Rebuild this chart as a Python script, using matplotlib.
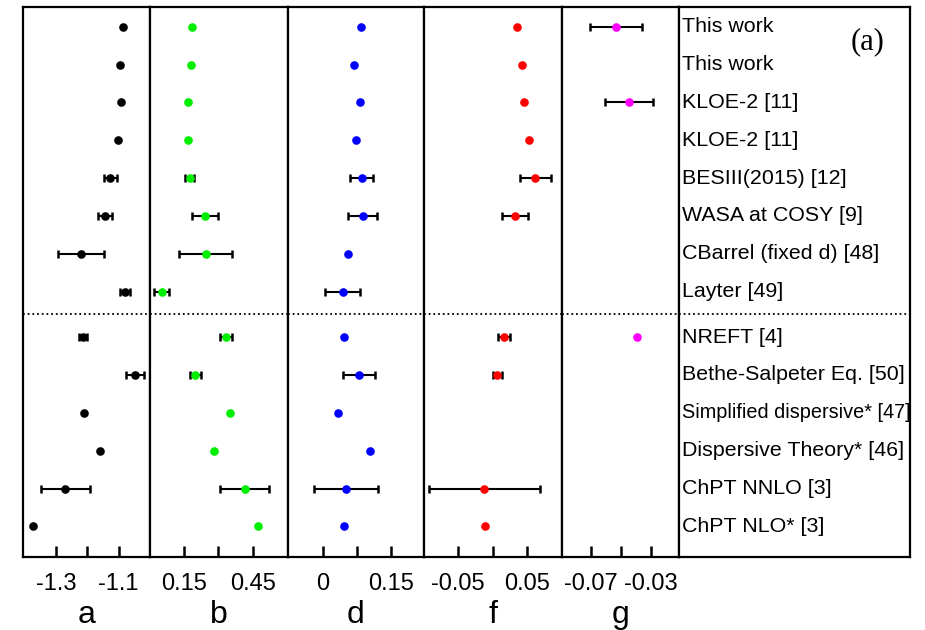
import numpy as np
import matplotlib

matplotlib.use("Agg")
import matplotlib.pyplot as plt  # noqa: E402

sources = [
    "This work", "This work", "KLOE-2 [11]", "KLOE-2 [11]",
    "BESIII(2015) [12]", "WASA at COSY [9]", "CBarrel (fixed d) [48]",
    "Layter [49]", "NREFT [4]", "Bethe-Salpeter Eq. [50]",
    "Simplified dispersive* [47]", "Dispersive Theory* [46]",
    "ChPT NNLO [3]", "ChPT NLO* [3]",
]
n_experiment = 8  # rows above the dotted separator

nan = np.nan
a_val = [-1.085, -1.095, -1.094, -1.103, -1.126, -1.143, -1.221, -1.079,
         -1.213, -1.048, -1.209, -1.159, -1.270, -1.372]
a_err = [nan, nan, nan, nan, 0.020, 0.022, 0.073, 0.016,
         0.012, 0.028, nan, nan, 0.078, nan]
b_val = [0.185, 0.180, 0.167, 0.166, 0.176, 0.242, 0.244, 0.053,
         0.332, 0.200, 0.350, 0.283, 0.414, 0.472]
b_err = [nan, nan, nan, nan, 0.020, 0.055, 0.113, 0.032,
         0.026, 0.024, nan, nan, 0.105, nan]
d_val = [0.084, 0.069, 0.083, 0.073, 0.086, 0.088, 0.056, 0.044,
         0.047, 0.080, 0.034, 0.105, 0.051, 0.047]
d_err = [nan, nan, nan, nan, 0.025, 0.031, nan, 0.038,
         nan, 0.035, nan, nan, 0.070, nan]
f_val = [0.035, 0.043, 0.046, 0.053, 0.062, 0.033, nan, nan,
         0.017, 0.007, nan, nan, -0.012, -0.011]
f_err = [nan, nan, nan, nan, 0.022, 0.019, nan, nan,
         0.009, 0.007, nan, nan, 0.080, nan]
g_val = [-0.0533, nan, -0.0443, nan, nan, nan, nan, nan,
         -0.0393, nan, nan, nan, nan, nan]
g_err = [0.0172, nan, 0.016, nan, nan, nan, nan, nan,
         nan, nan, nan, nan, nan, nan]

panels = [
    ("a", a_val, a_err, "black", (-1.404, -1.0), [-1.3, -1.2, -1.1], ["-1.3", "", "-1.1"]),
    ("b", b_val, b_err, "#00ee00", (0.003, 0.60), [0.15, 0.30, 0.45], ["0.15", "", "0.45"]),
    ("d", d_val, d_err, "#0000ff", (-0.077, 0.223), [0.0, 0.075, 0.15], ["0", "", "0.15"]),
    ("f", f_val, f_err, "#ff0000", (-0.099, 0.10), [-0.05, 0.0, 0.05], ["-0.05", "", "0.05"]),
    ("g", g_val, g_err, "#ff00ff", (-0.0893, -0.0116), [-0.07, -0.05, -0.03], ["-0.07", "", "-0.03"]),
]

# row positions, with a wider gap between experiments and theory
rows = np.arange(len(sources), dtype=float)
rows[n_experiment:] += 0.2
separator = n_experiment - 1 + 0.6

plt.rcParams.update({
    "font.family": ["Liberation Sans", "DejaVu Sans"],
    "axes.linewidth": 1.6,
    "xtick.labelsize": 17,
})

W, H = 925, 630
fig = plt.figure(figsize=(W / 100, H / 100), dpi=100)

edges = [23.3, 150.0, 287.5, 424.0, 561.7, 678.5, 910.0]
top, bottom = 7.0, 556.7


def frame(x0, x1):
    return [x0 / W, (H - bottom) / H, (x1 - x0) / W, (bottom - top) / H]


axes = []
for i, (name, vals, errs, color, xlim, ticks, labels) in enumerate(panels):
    ax = fig.add_axes(frame(edges[i], edges[i + 1]))
    vals = np.asarray(vals, dtype=float)
    errs = np.asarray(errs, dtype=float)
    has_err = ~np.isnan(errs) & ~np.isnan(vals)
    ax.errorbar(vals[has_err], rows[has_err], xerr=errs[has_err], fmt="none",
                ecolor="black", elinewidth=1.5, capsize=2.8, capthick=1.8, zorder=2)
    ax.plot(vals, rows, "o", color=color, markersize=6.2, markeredgewidth=0, zorder=3)
    ax.axhline(separator, color="black", linestyle=(0, (1, 1.6)), linewidth=1.3)
    ax.set_xlim(*xlim)
    ax.set_ylim(14.0, -0.52)
    ax.set_xticks(ticks, labels)
    ax.tick_params(axis="y", left=False, labelleft=False)
    ax.tick_params(axis="x", direction="in", length=8, width=1.8,
                   color="black", pad=12)
    ax.set_xlabel(name, fontsize=23, labelpad=3)
    axes.append(ax)

lab = fig.add_axes(frame(edges[5], edges[6]))
lab.set_xlim(0, 1)
lab.set_ylim(14.0, -0.52)
lab.set_xticks([])
lab.set_yticks([])
lab.axhline(separator, color="black", linestyle=(0, (1, 1.6)), linewidth=1.3)
for y, name in zip(rows, sources):
    size = 14.3 if len(name) > 24 else 15.4
    lab.text(0.016, y, name, fontsize=size, ha="left", va="center")
lab.text(0.815, 0.4, "(a)", fontsize=22, family="Liberation Serif",
         ha="center", va="center")

fig.savefig("out.png", dpi=100)
